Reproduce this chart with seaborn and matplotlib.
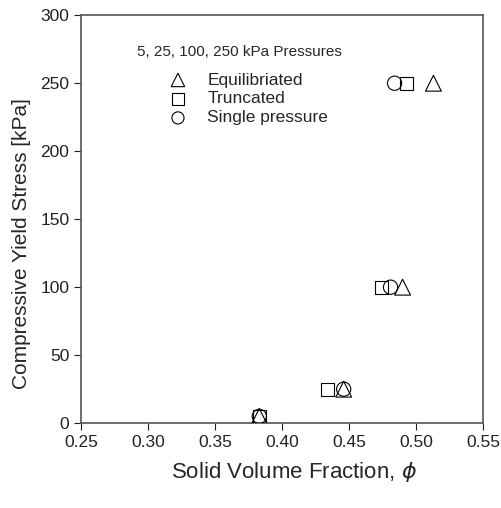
import numpy as np
import pandas as pd
import matplotlib
matplotlib.use("Agg")
import matplotlib.pyplot as plt
import seaborn as sns

# data
pressure = [5, 25, 100, 250]
phi_equil = [0.383, 0.446, 0.490, 0.513]
phi_trunc = [0.383, 0.434, 0.474, 0.493]
phi_single = [0.383, 0.446, 0.481, 0.484]

sns.set_style("ticks")
plt.rcParams['font.family'] = ['Liberation Sans', 'DejaVu Sans']

fig = plt.figure(figsize=(5.01, 5.08), dpi=100)
ax = fig.add_axes([0.162, 0.167, 0.802, 0.803])

series = [
    ("Equilibriated", phi_equil, "^", 130),
    ("Truncated", phi_trunc, "s", 90),
    ("Single pressure", phi_single, "o", 105),
]
for name, phi, mk, sz in series:
    df = pd.DataFrame({"phi": phi, "p": pressure})
    sns.scatterplot(data=df, x="phi", y="p", marker=mk, s=sz, facecolor="none",
                    edgecolor="black", linewidth=0.8, label=name, ax=ax, zorder=3)

ax.set_xlim(0.25, 0.55)
ax.set_ylim(0, 300)
ax.set_xticks(np.arange(0.25, 0.551, 0.05))
ax.set_xticklabels([f"{v:.2f}" for v in np.arange(0.25, 0.551, 0.05)])
ax.set_yticks(range(0, 301, 50))
ax.tick_params(direction="out", length=5, width=0.8, labelsize=12.5, colors="#222222")
for sp in ax.spines.values():
    sp.set_color("#555555")
    sp.set_linewidth(1.2)

ax.set_xlabel(r"Solid Volume Fraction, $\phi$", fontsize=16)
ax.set_ylabel("Compressive Yield Stress [kPa]", fontsize=15)
ax.xaxis.set_label_coords(0.53, -0.09)
ax.yaxis.set_label_coords(-0.125, 0.44)

ax.text(0.139, 0.91, "5, 25, 100, 250 kPa Pressures", transform=ax.transAxes,
        fontsize=11, va="center", ha="left")
ax.legend(loc="upper left", bbox_to_anchor=(0.215, 0.86), frameon=False,
          fontsize=12.5, handlelength=1.2, handletextpad=1.1, labelspacing=0.22,
          borderpad=0, borderaxespad=0, markerscale=0.85)

fig.savefig("out.png", dpi=100)
